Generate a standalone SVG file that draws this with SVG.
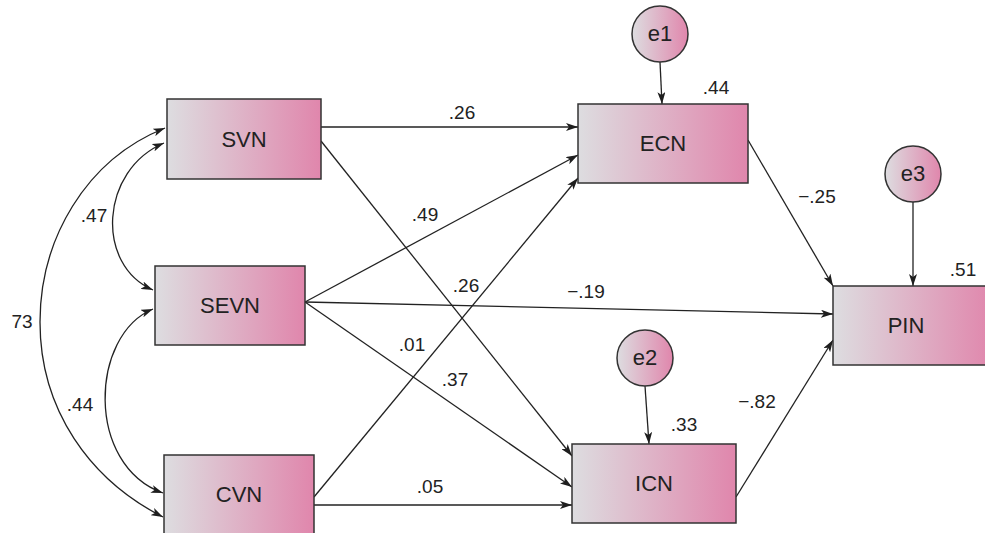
<svg xmlns="http://www.w3.org/2000/svg" width="985" height="533" viewBox="0 0 985 533">
<defs>
<linearGradient id="g" x1="0" y1="0" x2="1" y2="0">
<stop offset="0" stop-color="#dddde0"/>
<stop offset="1" stop-color="#e086ac"/>
</linearGradient>
<marker id="ah" viewBox="0 0 12 8" refX="12" refY="4" markerWidth="12" markerHeight="8" markerUnits="userSpaceOnUse" orient="auto-start-reverse">
<path d="M0,0 L12,4 L0,8 L3,4 Z" fill="#1e1e1e"/>
</marker>
<style>
.box{fill:url(#g);stroke:#333;stroke-width:1.5}
.t{font-family:"Liberation Sans",Arial,sans-serif;font-size:22px;fill:#222;text-anchor:middle}
.l{font-family:"Liberation Sans",Arial,sans-serif;font-size:19px;fill:#222;text-anchor:middle}
.c{fill:none;stroke:#222;stroke-width:1.3;marker-end:url(#ah)}
.d{fill:none;stroke:#222;stroke-width:1.3;marker-start:url(#ah);marker-end:url(#ah)}
</style>
</defs>
<g id="connectors">
<path class="c" d="M321,127 L578,127"/>
<path class="c" d="M321,141 L572,456"/>
<path class="c" d="M305,302 L578,155"/>
<path class="c" d="M314,497 L578,178"/>
<path class="c" d="M305,302 L833,314"/>
<path class="c" d="M305,302 L572,487"/>
<path class="c" d="M314,505 L572,505"/>
<path class="c" d="M748,140 L833,286"/>
<path class="c" d="M736,497 L833,340"/>
<path class="c" d="M660,62 L662,104"/>
<path class="c" d="M645,386 L649,444"/>
<path class="c" d="M913,202 L913,286"/>
<path class="d" d="M165,128 C 85,160 40,240 40,322 C 40,410 90,480 163,517"/>
<path class="d" d="M164,143 C 100,170 95,265 153,290"/>
<path class="d" d="M153,309 C 90,335 85,465 163,493"/>
</g>
<g id="SVN"><rect class="box" x="167" y="99" width="154" height="80"/><text class="t" x="244" y="147">SVN</text></g>
<g id="SEVN"><rect class="box" x="155" y="266" width="150" height="79"/><text class="t" x="230" y="313">SEVN</text></g>
<g id="CVN"><rect class="box" x="164" y="455" width="150" height="82"/><text class="t" x="239" y="502">CVN</text></g>
<g id="ECN"><rect class="box" x="578" y="104" width="170" height="79"/><text class="t" x="663" y="151">ECN</text></g>
<g id="ICN"><rect class="box" x="572" y="444" width="164" height="79"/><text class="t" x="654" y="491">ICN</text></g>
<g id="PIN"><rect class="box" x="833" y="286" width="160" height="79"/><text class="t" x="906" y="333">PIN</text></g>
<g id="e1"><circle class="box" cx="660" cy="34" r="28"/><text class="t" x="660" y="41">e1</text></g>
<g id="e2"><circle class="box" cx="645" cy="358" r="28"/><text class="t" x="645" y="365">e2</text></g>
<g id="e3"><circle class="box" cx="913" cy="174" r="28"/><text class="t" x="913" y="181">e3</text></g>
<g id="labels">
<text class="l" x="462" y="119">.26</text>
<text class="l" x="425" y="221">.49</text>
<text class="l" x="466" y="292">.26</text>
<text class="l" x="586" y="298">−.19</text>
<text class="l" x="412" y="351">.01</text>
<text class="l" x="455" y="386">.37</text>
<text class="l" x="430" y="493">.05</text>
<text class="l" x="817" y="203">−.25</text>
<text class="l" x="757" y="408">−.82</text>
<text class="l" x="716" y="94">.44</text>
<text class="l" x="684" y="431">.33</text>
<text class="l" x="963" y="276">.51</text>
<text class="l" x="94" y="222">.47</text>
<text class="l" x="80" y="411">.44</text>
<text class="l" x="22" y="328">73</text>
</g>
</svg>
